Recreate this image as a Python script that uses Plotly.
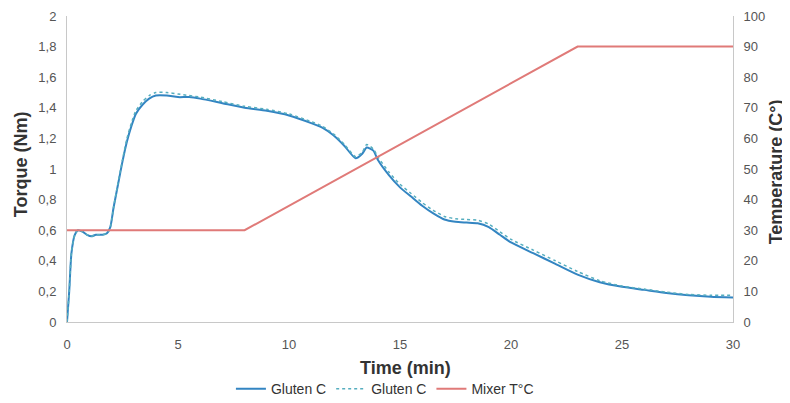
import plotly.graph_objects as go

time_a = [0, 0.1, 0.2, 0.35, 0.5, 0.7, 0.9, 1.1, 1.3, 1.6, 1.8, 1.95, 2.1, 2.3, 2.5, 2.7, 2.9, 3.1, 3.4, 3.7, 4.0,
          4.5, 5, 5.5, 6, 7, 8, 9, 10, 11, 11.5, 12, 12.5, 13, 13.3, 13.5, 13.8, 14, 14.5, 15, 15.5, 16, 16.5,
          17, 17.5, 18, 18.5, 19, 19.5, 20, 21, 22, 23, 24, 25, 26, 27, 28, 29, 30]
torque_a = [0, 0.2, 0.45, 0.57, 0.6, 0.59, 0.57, 0.56, 0.57, 0.57, 0.58, 0.62, 0.75, 0.9, 1.05, 1.18, 1.28, 1.36,
            1.42, 1.46, 1.48, 1.48, 1.47, 1.47, 1.46, 1.43, 1.40, 1.38, 1.35, 1.30, 1.27, 1.22, 1.15, 1.07, 1.10,
            1.14, 1.12, 1.06, 0.96, 0.88, 0.82, 0.76, 0.71, 0.67, 0.655, 0.65, 0.645, 0.62, 0.57, 0.52, 0.45,
            0.38, 0.31, 0.26, 0.23, 0.21, 0.19, 0.175, 0.165, 0.16]
torque_b = [0, 0.2, 0.45, 0.57, 0.6, 0.59, 0.57, 0.56, 0.57, 0.57, 0.58, 0.62, 0.75, 0.91, 1.06, 1.2, 1.3, 1.38,
            1.44, 1.48, 1.50, 1.50, 1.49, 1.48, 1.47, 1.44, 1.41, 1.39, 1.36, 1.31, 1.28, 1.23, 1.16, 1.08, 1.11,
            1.16, 1.13, 1.08, 0.98, 0.9, 0.84, 0.78, 0.73, 0.69, 0.675, 0.67, 0.665, 0.64, 0.59, 0.54, 0.47,
            0.40, 0.33, 0.27, 0.235, 0.215, 0.195, 0.18, 0.175, 0.175]
time_t = [0, 8, 23, 30]
temp_t = [30, 30, 90, 90]

x_title = "<b>Time (min)</b>"
y_title = "<b>Torque (Nm)</b>"
y2_title = "<b>Temperature (C°)</b>"

fig = go.Figure()
fig.add_trace(go.Scatter(x=time_a, y=torque_a, name="Gluten C", mode="lines",
                         line=dict(color="#3385c2", width=2, shape="spline", smoothing=0.6)))
fig.add_trace(go.Scatter(x=time_a, y=torque_b, name="Gluten C", mode="lines",
                         line=dict(color="#56aebf", width=1.5, dash="dot", shape="spline", smoothing=0.6)))
fig.add_trace(go.Scatter(x=time_t, y=temp_t, name="Mixer T°C", mode="lines", yaxis="y2",
                         line=dict(color="#e07a78", width=2)))

ff = "Liberation Sans, Arial, sans-serif"
tickfont = dict(family=ff, size=13, color="#555555")
titlefont = dict(family=ff, size=18, color="#333333")

fig.update_layout(
    width=782, height=395,
    margin=dict(l=59, r=57, t=8, b=81),
    paper_bgcolor="white", plot_bgcolor="white",
    separators=",.",
    showlegend=True,
    legend=dict(orientation="h", xref="container", yref="container",
                x=0.482, xanchor="center", y=0.035, yanchor="middle",
                font=dict(family=ff, size=14, color="#333333"),
                itemwidth=30, tracegroupgap=0),
    xaxis=dict(range=[0, 30], dtick=5, showgrid=False, zeroline=False, showline=True,
               linecolor="#c8c8c8", linewidth=1, ticks="", tickfont=tickfont, automargin=False,
               ticklabelstandoff=10),
    yaxis=dict(range=[0, 2], dtick=0.2, showgrid=False, zeroline=False, showline=True,
               linecolor="#c8c8c8", linewidth=1, ticks="", tickfont=tickfont, automargin=False,
               ticklabelstandoff=7, ticklabeloverflow="allow"),
    yaxis2=dict(range=[0, 100], dtick=10, overlaying="y", side="right", showgrid=False,
                zeroline=False, showline=True, linecolor="#c8c8c8", linewidth=1, ticks="",
                tickfont=tickfont, automargin=False, ticklabelstandoff=7, ticklabeloverflow="allow"),
    annotations=[
        dict(text=x_title, xref="paper", yref="paper", x=0.509, y=-0.150, xanchor="center",
             yanchor="middle", showarrow=False, font=titlefont),
        dict(text=y_title, xref="paper", yref="paper", x=-0.069, y=0.516, xanchor="center",
             yanchor="middle", showarrow=False, textangle=-90, font=titlefont),
        dict(text=y2_title, xref="paper", yref="paper", x=1.065, y=0.49, xanchor="center",
             yanchor="middle", showarrow=False, textangle=-90, font=titlefont),
    ],
)

fig.write_html("out.html")
